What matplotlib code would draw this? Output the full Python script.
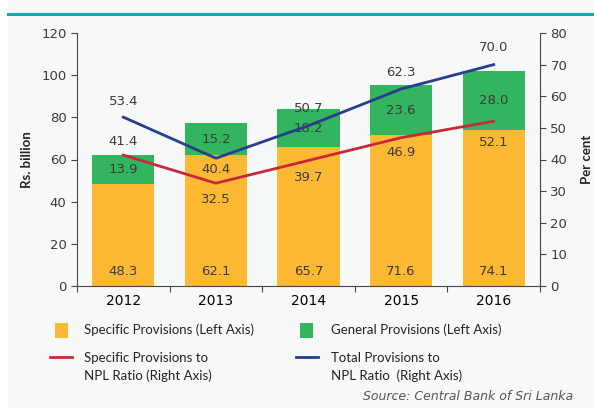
import matplotlib.pyplot as plt
from matplotlib.patches import Rectangle
from matplotlib.lines import Line2D
import numpy as np

# data
years = ['2012', '2013', '2014', '2015', '2016']
specific = [48.3, 62.1, 65.7, 71.6, 74.1]
general = [13.9, 15.2, 18.2, 23.6, 28.0]
total_ratio = [53.4, 40.4, 50.7, 62.3, 70.0]
specific_ratio = [41.4, 32.5, 39.7, 46.9, 52.1]

# label offsets (points) above/below line points
total_off = [11, -8, 12, 12, 12]
spec_off = [10, -12, -12, -11, -15]

c_yellow = '#FDB933'
c_green = '#33B45F'
c_red = '#C8283A'
c_blue = '#283E8C'
c_text = '#3a3a3a'
bg = '#F7F8F8'

plt.rcParams['font.family'] = ['DejaVu Sans']

W, H = 594, 408
fig = plt.figure(figsize=(W / 100, H / 100), dpi=100, facecolor=bg)
fig.patches.append(Rectangle((0, 0), 8 / W, 1, transform=fig.transFigure,
                             facecolor='white', edgecolor='none', zorder=0))
fig.lines.append(Line2D([8 / W, 1], [1 - 14 / H, 1 - 14 / H], transform=fig.transFigure,
                        color='#12A8B5', linewidth=2.2))

ax = fig.add_axes([77 / W, (H - 286) / H, (540 - 77) / W, (286 - 33) / H])
ax.set_facecolor(bg)
x = np.arange(len(years))
ax.bar(x, specific, width=0.67, color=c_yellow, zorder=2)
ax.bar(x, general, width=0.67, bottom=specific, color=c_green, zorder=2)
ax.set_ylim(0, 120)
ax.set_xlim(-0.5, 4.5)
ax.set_yticks(range(0, 121, 20))
ax.set_xticks(np.arange(-0.5, 4.6, 1))
ax.set_xticklabels([])
ax.set_xticks(x, minor=True)
ax.set_xticklabels(years, minor=True)
ax.tick_params(axis='x', which='minor', length=0, pad=6)
ax.tick_params(axis='x', which='major', length=4, color='#444')
ax.tick_params(axis='y', length=4, color='#444')
ax.tick_params(labelsize=9.5, labelcolor=c_text)
for s in ['top', 'right']:
    ax.spines[s].set_visible(False)
for s in ['left', 'bottom']:
    ax.spines[s].set_color('#444')
ax.set_ylabel('Rs. billion', fontsize=9.5, color='#222', fontweight='bold',
              family='Lato', labelpad=6)

for i in range(len(years)):
    ax.text(x[i], 4, f'{specific[i]:.1f}', ha='center', va='bottom', fontsize=9.5, color=c_text, zorder=4)
    ax.text(x[i], specific[i] + general[i] / 2, f'{general[i]:.1f}', ha='center', va='center',
            fontsize=9.5, color=c_text, zorder=4)

ax2 = ax.twinx()
ax2.set_ylim(0, 80)
ax2.set_yticks(range(0, 81, 10))
ax2.plot(x, total_ratio, color=c_blue, linewidth=2, zorder=3)
ax2.plot(x, specific_ratio, color=c_red, linewidth=2, zorder=3)
for s in ['top', 'left', 'bottom']:
    ax2.spines[s].set_visible(False)
ax2.spines['right'].set_color('#444')
ax2.tick_params(axis='y', length=4, color='#444', labelsize=9.5, labelcolor=c_text)
ax2.set_ylabel('Per cent', fontsize=9.5, color='#222', fontweight='bold',
               family='Lato', labelpad=10)

for i in range(len(years)):
    ax2.annotate(f'{total_ratio[i]:.1f}', (x[i], total_ratio[i]), xytext=(0, total_off[i]),
                 textcoords='offset points', ha='center', va='center', fontsize=9.5, color=c_text)
    ax2.annotate(f'{specific_ratio[i]:.1f}', (x[i], specific_ratio[i]), xytext=(0, spec_off[i]),
                 textcoords='offset points', ha='center', va='center', fontsize=9.5, color=c_text)

# legend
def fx(px):
    return px / W

def fy(py):
    return 1 - py / H

fig.patches.append(Rectangle((fx(55), fy(338)), fx(13), 15 / H, transform=fig.transFigure,
                             facecolor=c_yellow, edgecolor='none'))
fig.patches.append(Rectangle((fx(300), fy(338)), fx(13), 15 / H, transform=fig.transFigure,
                             facecolor=c_green, edgecolor='none'))
fig.lines.append(Line2D([fx(50), fx(72)], [fy(357), fy(357)], transform=fig.transFigure,
                        color=c_red, linewidth=2))
fig.lines.append(Line2D([fx(296), fx(318)], [fy(357), fy(357)], transform=fig.transFigure,
                        color=c_blue, linewidth=2))
lg = dict(fontsize=9.5, color='#222', va='center', ha='left', family='Lato')
fig.text(fx(84), fy(330), 'Specific Provisions (Left Axis)', **lg)
fig.text(fx(331), fy(330), 'General Provisions (Left Axis)', **lg)
fig.text(fx(84), fy(358), 'Specific Provisions to', **lg)
fig.text(fx(84), fy(376), 'NPL Ratio (Right Axis)', **lg)
fig.text(fx(331), fy(358), 'Total Provisions to', **lg)
fig.text(fx(331), fy(376), 'NPL Ratio  (Right Axis)', **lg)
fig.text(fx(363), fy(397), 'Source: Central Bank of Sri Lanka', fontsize=9, color='#555',
         style='italic', va='center', ha='left')

fig.savefig('out.png', dpi=100, facecolor=bg)
